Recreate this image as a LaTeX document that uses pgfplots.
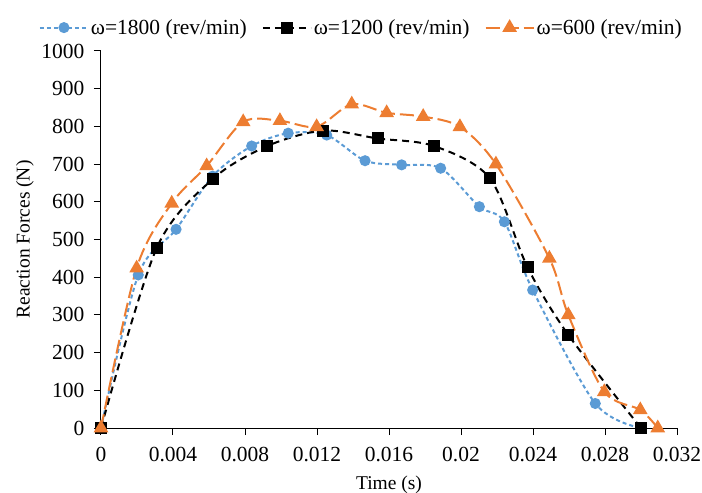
\documentclass[border=0pt]{standalone}
\usepackage{fontspec}
\setmainfont{Liberation Serif}
\usepackage{pgfplots}
\pgfplotsset{compat=1.18}
\definecolor{cblue}{HTML}{5B9BD5}
\definecolor{corange}{HTML}{ED7D31}
\begin{document}
\begin{tikzpicture}
\begin{axis}[
  scale only axis, width=576bp, height=377bp,
  xmin=0, xmax=0.032, ymin=0, ymax=1000,
  axis x line*=bottom, axis y line*=left,
  axis line style={black, line width=1bp},
  xtick={0,0.004,0.008,0.012,0.016,0.02,0.024,0.028,0.032},
  xticklabels={0,0.004,0.008,0.012,0.016,0.02,0.024,0.028,0.032},
  ytick={0,100,200,300,400,500,600,700,800,900,1000},
  scaled x ticks=false,
  /pgf/number format/assume math mode=true,
  /pgf/number format/1000 sep={},
  tick align=outside, major tick length=7bp,
  tick style={black, line width=1bp},
  tick label style={font=\fontsize{21.5bp}{25bp}\selectfont},
  x tick label style={yshift=-9bp},
  y tick label style={xshift=-6bp},
  label style={font=\fontsize{19.5bp}{23bp}\selectfont},
  xlabel={Time (s)}, ylabel={Reaction Forces (N)},
  x label style={at={(axis description cs:0.5,-0.1500)}, anchor=center},
  y label style={at={(axis description cs:-0.132,0.5)}, anchor=center},
  clip=false,
  legend style={at={(axis description cs:0.452,1.0)}, anchor=south, yshift=11bp,
    draw=none, fill=none, legend columns=3,
    font=\fontsize{21.5bp}{25bp}\selectfont,
    /tikz/every even column/.append style={column sep=13bp}},
  legend image code/.code={\draw[mark repeat=2,mark phase=2] plot coordinates {(0bp,0bp) (24bp,0bp) (48bp,0bp)};},
]
\addplot[cblue, line width=2bp, dash pattern=on 4bp off 3bp, smooth, mark=*, mark size=4.5bp, mark options={solid}]
coordinates {(0,0) (0.00207,406) (0.00417,527) (0.0062,668) (0.00837,748) (0.0104,782) (0.01254,777) (0.01467,709) (0.0167,698) (0.01887,689) (0.02102,587) (0.02241,547) (0.02398,366) (0.02746,65) (0.030,0)};
\addlegendentry{ω=1800 (rev/min)}
\addplot[black, line width=2bp, dash pattern=on 7bp off 5bp, smooth, mark=square*, mark size=5bp, mark options={solid}]
coordinates {(0,0) (0.00309,477) (0.0062,660) (0.00924,748) (0.01235,789) (0.01537,768) (0.0185,748) (0.02161,662) (0.0237,426) (0.02596,247) (0.030,0)};
\addlegendentry{ω=1200 (rev/min)}
\addplot[corange, line width=2bp, dash pattern=on 14bp off 5bp, smooth, mark=triangle*, mark size=6.5bp, mark options={solid}]
coordinates {(0,0) (0.00198,424) (0.00393,596) (0.00587,695) (0.0079,812) (0.00994,815) (0.01198,799) (0.01393,859) (0.01587,836) (0.0179,826) (0.01994,799) (0.02194,700) (0.02491,450) (0.02596,300) (0.02796,96) (0.02996,48) (0.03093,0)};
\addlegendentry{ω=600 (rev/min)}
\end{axis}
\pgfresetboundingbox
\useasboundingbox (-101bp,-65bp) rectangle (601bp,428bp);
\end{tikzpicture}
\end{document}
